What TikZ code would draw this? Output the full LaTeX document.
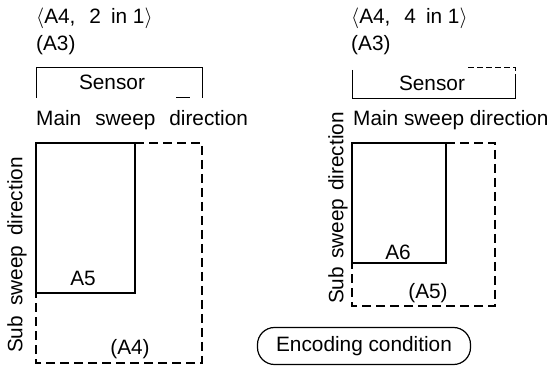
\documentclass[tikz,border=0pt]{standalone}
\usepackage{fontspec}
\setmainfont{Liberation Sans}
\begin{document}
\begin{tikzpicture}[x=1pt,y=-1pt,
  txt/.style={inner sep=0pt,font=\fontsize{20.8}{24}\selectfont},
  solidline/.style={line width=1.3pt},
  dashline/.style={line width=1.2pt,dash pattern=on 9pt off 5pt},
  thinline/.style={line width=0.8pt},
  pill/.style={draw,line width=1.2pt,rounded corners=17pt,minimum width=213pt,minimum height=37pt,inner sep=0pt,font=\fontsize{20.8}{24}\selectfont}]
\useasboundingbox (0,0) rectangle (550,366);
% ---------------- left ----------------
\node[txt,anchor=west] (lt) at (36,18) {$\langle$A4,\hspace{14pt}2\hspace{10pt}in 1$\rangle$};
\node[txt,anchor=west] (la3) at (36,45) {(A3)};
\node[txt] (ls) at (112,82) {Sensor};
\draw[thinline] (36,98) coordinate (lsa) -- (36,67) -- (202,67) -- (202,98) coordinate (lsb);
\draw[thinline] (176,97) -- (190,97);
\node[txt,anchor=west] (lm) at (36,120) {Main\hspace{14pt}sweep\hspace{14pt}direction};
\coordinate (l1) at (36,143);
\coordinate (l2) at (135,143);
\coordinate (l3) at (135,293);
\coordinate (l4) at (36,293);
\coordinate (l5) at (202,143);
\coordinate (l6) at (202,363);
\coordinate (l7) at (36,363);
\draw[solidline] (l4) -- (l1) -- (l2) -- (l3) -- (l4);
\draw[dashline] (l2) -- (l5) -- (l6) -- (l7) -- (l4);
\node[txt] (la5) at (83,278) {A5};
\node[txt] (la4) at (130,349) {(A4)};
\node[txt,rotate=90] (lsub) at (17,255) {Sub\hspace{10pt}sweep\hspace{10pt}direction};
% ---------------- right ----------------
\node[txt,anchor=west] (rt) at (351,18) {$\langle$A4,\hspace{14pt}4\hspace{10pt}in 1$\rangle$};
\node[txt,anchor=west] (ra3) at (351,45) {(A3)};
\node[txt] (rs) at (432,83) {Sensor};
\draw[thinline] (352,70) coordinate (rsa) -- (352,98) -- (515,98) -- (515,78) coordinate (rsb);
\draw[thinline,dash pattern=on 6pt off 3pt] (468,67) -- (515,67) -- (515,78);
\node[txt,anchor=west] (rm) at (353,120) {Main sweep direction};
\coordinate (r1) at (352,143);
\coordinate (r2) at (446,143);
\coordinate (r3) at (446,263);
\coordinate (r4) at (352,263);
\coordinate (r5) at (495,143);
\coordinate (r6) at (495,306);
\coordinate (r7) at (352,306);
\draw[solidline] (r4) -- (r1) -- (r2) -- (r3) -- (r4);
\draw[dashline] (r2) -- (r5) -- (r6) -- (r7) -- (r4);
\node[txt] (ra6) at (398,252) {A6};
\node[txt] (ra5) at (428,293) {(A5)};
\node[txt,rotate=90] (rsub) at (338,208) {Sub\hspace{8pt}sweep\hspace{8pt}direction};
% ---------------- encoding condition ----------------
\node[pill] (enc) at (364,346) {Encoding condition};
\end{tikzpicture}
\end{document}
